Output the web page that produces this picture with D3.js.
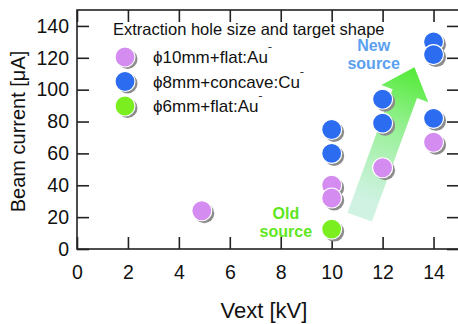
<!DOCTYPE html>
<html>
<head>
<meta charset="utf-8">
<script src="https://cdn.jsdelivr.net/npm/d3@7"></script>
<style>
  body { margin: 0; background: #fff; }
  text { font-family: "Liberation Sans", Arial, sans-serif; }
</style>
</head>
<body>
<svg id="chart" width="458" height="324"></svg>
<script>
// data
let pinkX = [4.9, 10, 10, 12, 14];
let pinkY = [24, 40, 32, 51, 67];
let blueX = [10, 10, 12, 12, 14, 14, 14];
let blueY = [75, 60, 94, 79, 130, 122, 82];
let greenX = [10];
let greenY = [12.5];

let seriesNames = ["\u03D510mm+flat:Au", "\u03D58mm+concave:Cu", "\u03D56mm+flat:Au"];
let seriesColors = ["#d48cf0", "#2c6cf0", "#7aee1e"];

let xTicks = [0, 2, 4, 6, 8, 10, 12, 14];
let yTicks = [0, 20, 40, 60, 80, 100, 120, 140];

// set the dimensions and margins of the graph
let margin = {top: 10, right: 0, bottom: 75, left: 77},
    width = 382,
    height = 239;

let svg = d3.select("#chart")
  .append("g")
    .attr("transform", "translate(" + margin.left + "," + margin.top + ")");

let x = d3.scaleLinear().domain([0, 15]).range([0, width]);
let y = d3.scaleLinear().domain([0, 150]).range([height, 0]);

// arrow (drawn first so the points sit on top)
let defs = d3.select("#chart").append("defs");
let s = [x(11.1), y(20)], t = [x(13.25), y(114)];
let grad = defs.append("linearGradient")
  .attr("id", "arrowGrad")
  .attr("gradientUnits", "userSpaceOnUse")
  .attr("x1", s[0] + margin.left).attr("y1", s[1] + margin.top)
  .attr("x2", t[0] + margin.left).attr("y2", t[1] + margin.top);
grad.append("stop").attr("offset", 0).attr("stop-color", "#c4efdc").attr("stop-opacity", 0.8);
grad.append("stop").attr("offset", 0.55).attr("stop-color", "#8ff08a");
grad.append("stop").attr("offset", 1).attr("stop-color", "#3fe81a");

let dx = t[0] - s[0], dy = t[1] - s[1];
let len = Math.sqrt(dx * dx + dy * dy);
let u = [dx / len, dy / len], n = [-u[1], u[0]];
let sw = 13, hw = 25, hl = 28;
let h = [t[0] - u[0] * hl, t[1] - u[1] * hl];
let pts = [
  [s[0] + n[0] * sw, s[1] + n[1] * sw],
  [h[0] + n[0] * sw, h[1] + n[1] * sw],
  [h[0] + n[0] * hw, h[1] + n[1] * hw],
  t,
  [h[0] - n[0] * hw, h[1] - n[1] * hw],
  [h[0] - n[0] * sw, h[1] - n[1] * sw],
  [s[0] - n[0] * sw, s[1] - n[1] * sw]
];
svg.append("path")
  .attr("d", "M" + pts.map(p => p.join(",")).join("L") + "Z")
  .attr("fill", "url(#arrowGrad)");

// frame
svg.append("rect")
  .attr("width", width).attr("height", height)
  .attr("fill", "none").attr("stroke", "#222").attr("stroke-width", 1.6);

// axes, ticks pointing inward
let xAxis = svg.append("g")
  .attr("transform", "translate(0," + height + ")")
  .call(d3.axisBottom(x).tickValues(xTicks).tickSizeInner(-12).tickSizeOuter(0).tickPadding(16));
let xTop = svg.append("g")
  .call(d3.axisTop(x).tickValues(xTicks).tickSizeInner(-12).tickSizeOuter(0).tickFormat(""));
let yAxis = svg.append("g")
  .call(d3.axisLeft(y).tickValues(yTicks).tickSizeInner(-12).tickSizeOuter(0).tickPadding(8));
let yRight = svg.append("g")
  .attr("transform", "translate(" + width + ",0)")
  .call(d3.axisRight(y).tickValues(yTicks).tickSizeInner(-12).tickSizeOuter(0).tickFormat(""));

[xAxis, xTop, yAxis, yRight].forEach(function(a) {
  a.select(".domain").remove();
  a.selectAll("line").attr("stroke", "#222").attr("stroke-width", 1.6);
  a.selectAll("text").attr("font-size", 19.5).attr("fill", "#111")
    .style("font-family", "'Liberation Sans', Arial, sans-serif");
});

// axis titles
svg.append("text")
  .attr("x", width / 2 - 4).attr("y", height + 69)
  .attr("text-anchor", "middle").attr("font-size", 22).attr("fill", "#111")
  .text("Vext [kV]");
svg.append("text")
  .attr("transform", "translate(-52," + (height / 2 + 2) + ") rotate(-90)")
  .attr("text-anchor", "middle").attr("font-size", 20).attr("fill", "#111")
  .text("Beam current [\u03BCA]");

// annotations
let newSrc = svg.append("text").attr("text-anchor", "middle")
  .attr("font-size", 16).attr("font-weight", "bold").attr("fill", "#5c9ff0");
newSrc.append("tspan").attr("x", x(11.65)).attr("y", y(124.5)).text("New");
newSrc.append("tspan").attr("x", x(11.65)).attr("y", y(113)).text("source");
let oldSrc = svg.append("text").attr("text-anchor", "middle")
  .attr("font-size", 16).attr("font-weight", "bold").attr("fill", "#5ee61e");
oldSrc.append("tspan").attr("x", x(8.2)).attr("y", y(19)).text("Old");
oldSrc.append("tspan").attr("x", x(8.2)).attr("y", y(7.5)).text("source");

// points with a grey drop shadow
function drawPoints(xs, ys, color) {
  let data = xs.map((v, i) => ({x: v, y: ys[i]}));
  let g = svg.append("g");
  let pt = g.selectAll("g").data(data).enter().append("g");
  pt.append("circle")
    .attr("cx", d => x(d.x) + 2.5).attr("cy", d => y(d.y) + 2.5)
    .attr("r", 10).attr("fill", "#8c8c8c");
  pt.append("circle")
    .attr("cx", d => x(d.x)).attr("cy", d => y(d.y))
    .attr("r", 10).attr("fill", color).attr("stroke", "#fff").attr("stroke-width", 1.2);
}
drawPoints(pinkX, pinkY, seriesColors[0]);
drawPoints(blueX, blueY, seriesColors[1]);
drawPoints(greenX, greenY, seriesColors[2]);

// legend
let legend = svg.append("g");
legend.append("text")
  .attr("x", 36).attr("y", 25)
  .attr("font-size", 16.5).attr("fill", "#111")
  .text("Extraction hole size and target shape");
seriesNames.forEach(function(name, i) {
  let cy = 47 + i * 24.5;
  legend.append("circle").attr("cx", 50.5).attr("cy", cy + 2).attr("r", 10).attr("fill", "#8c8c8c");
  legend.append("circle").attr("cx", 48).attr("cy", cy).attr("r", 10)
    .attr("fill", seriesColors[i]).attr("stroke", "#fff").attr("stroke-width", 1.2);
  let tx = legend.append("text")
    .attr("x", 76).attr("y", cy + 6)
    .attr("font-size", 17).attr("fill", "#111");
  tx.append("tspan").text(name);
  tx.append("tspan").attr("dy", -7).attr("font-size", 12).text("\u02C9");
});
</script>
</body>
</html>
